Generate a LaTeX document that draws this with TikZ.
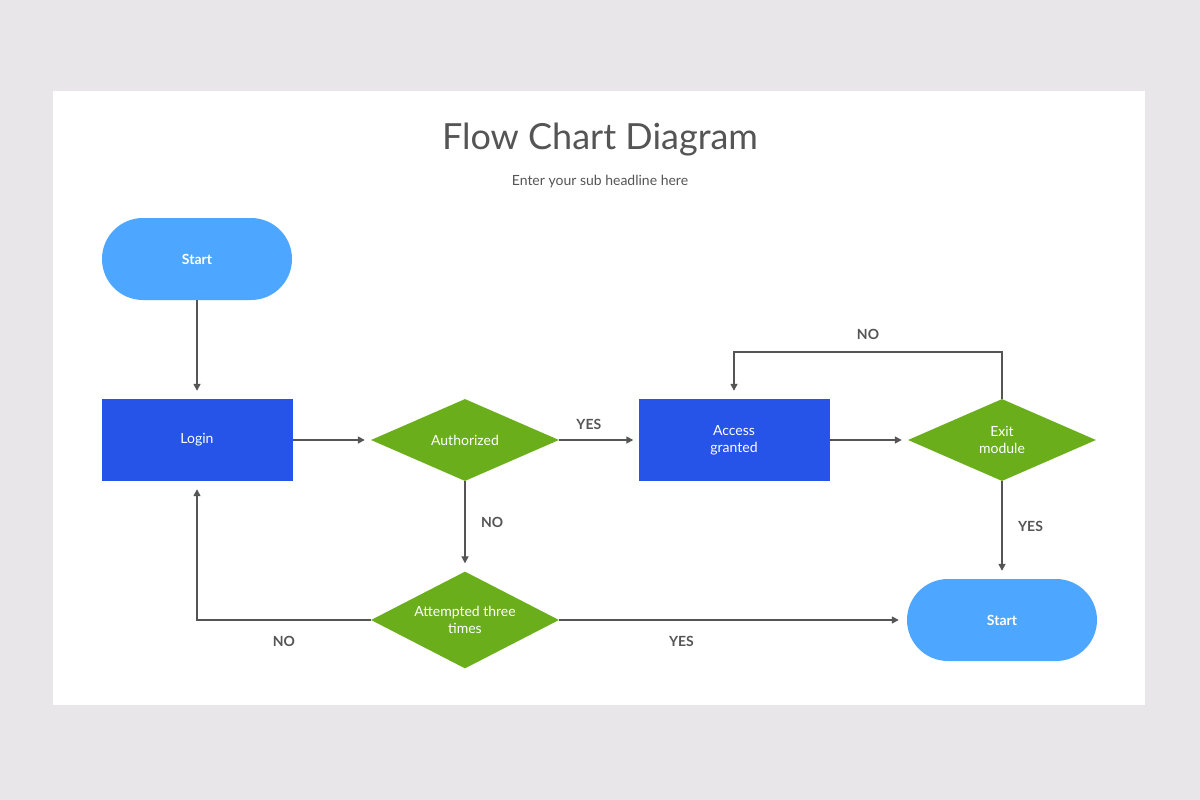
\documentclass[tikz,border=0pt]{standalone}
\usepackage{fontspec}
\setmainfont{Lato}
\usetikzlibrary{shapes.geometric,arrows.meta}
\definecolor{bgray}{HTML}{E8E6E8}
\definecolor{lblue}{HTML}{4DA6FF}
\definecolor{dblue}{HTML}{2653E8}
\definecolor{fgreen}{HTML}{6AAF1B}
\definecolor{lgray}{HTML}{555555}
\tikzstyle{arrow} = [-{Triangle[length=7pt,width=7pt]},lgray,line width=1.6pt]
\tikzstyle{term} = [fill=lblue,rounded corners=41pt,minimum width=190pt,minimum height=82pt,text=white,font=\fontsize{14}{16}\selectfont\bfseries]
\tikzstyle{proc} = [fill=dblue,minimum width=191pt,minimum height=82pt,text=white,align=center,font=\fontsize{14}{17}\selectfont]
\tikzstyle{dec} = [diamond,fill=fgreen,minimum width=188pt,minimum height=82pt,inner sep=-8pt,text=white,align=center,font=\fontsize{14}{17}\selectfont]
\tikzstyle{lbl} = [text=lgray,font=\fontsize{14}{16}\selectfont\bfseries]

\begin{document}
\begin{tikzpicture}[x=1pt,y=-1pt]
          \fill[bgray] (0,0) rectangle (1200,800);
          \fill[white] (53,91) rectangle (1145,705);
          \node[text=lgray,font=\fontsize{36}{40}\selectfont] (title) at (600,140) {Flow Chart Diagram};
          \node[text=lgray,font=\fontsize{14}{16}\selectfont] (sub) at (600,182) {Enter your sub headline here};

          \node[term] at (197,259) (S1) {Start};
          \node[proc] at (197,440) (L) {Login};
          \node[dec] at (465,440) (A) {Authorized};
          \node[proc] at (734,440) (G) {Access\\granted};
          \node[dec] at (1002,440) (X) {Exit\\module};
          \node[dec] at (465,620) (T) {Attempted three\\times};
          \node[term] at (1002,620) (S2) {Start};
          \coordinate (c1) at (1002,352);
          \coordinate (c2) at (734,352);
          \coordinate (c3) at (197,620);

          \draw[arrow] (S1) -- ([yshift=8pt]L.north);
          \draw[arrow] (L) -- ([xshift=-6pt]A.west);
          \draw[arrow] (A) -- ([xshift=-5pt]G.west) node[lbl,pos=0.4,above=6pt]{YES};
          \draw[arrow] (G) -- ([xshift=-6pt]X.west);
          \draw[arrow] (X.north) -- (c1) -- (c2) node[lbl,midway,above=8pt]{NO} -- ([yshift=8pt]G.north);
          \draw[arrow] (X) -- ([yshift=8pt]S2.north) node[lbl,midway,right=12pt]{YES};
          \draw[arrow] (A) -- ([yshift=8pt]T.north) node[lbl,midway,right=12pt]{NO};
          \draw[arrow] (T.west) -- (c3) node[lbl,pos=0.5,below=12pt]{NO} -- ([yshift=-8pt]L.south);
          \draw[arrow] (T.east) -- ([xshift=-8pt]S2.west) node[lbl,pos=0.36,below=12pt]{YES};
        \end{tikzpicture}
\end{document}
